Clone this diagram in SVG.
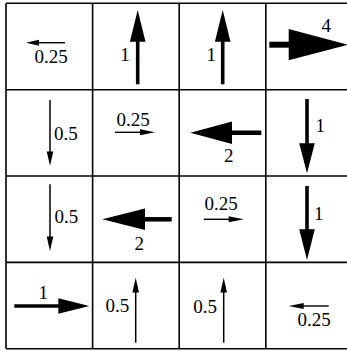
<svg xmlns="http://www.w3.org/2000/svg" width="347" height="352" viewBox="0 0 347 352">
<style>
.grid{stroke:#000;stroke-width:1.6;fill:none}
text{font-family:'Liberation Serif','Times New Roman',serif;font-size:19px;fill:#000}
.m{text-anchor:middle}
.s{stroke:#000;fill:none}
.h{fill:#000;stroke:none}
</style>
<rect width="347" height="352" fill="#fff"/>
<g id="grid" class="grid">
<path d="M6,3.3V348.7M92.6,3.3V348.7M179.2,3.3V348.7M265.8,3.3V348.7M352.4,3.3V348.7"/>
<path d="M6,3.3H352.4M6,89.7H352.4M6,176H352.4M6,262.4H352.4M6,348.7H352.4"/>
</g>
<g id="c00">
<line class="s" x1="65" y1="42.7" x2="36" y2="42.7" stroke-width="1.4"/>
<polygon class="h" points="26,42.7 39,39.7 39,45.7"/>
<text class="m" x="51" y="63">0.25</text>
</g>
<g id="c10">
<line class="s" x1="137.7" y1="84.3" x2="137.7" y2="38" stroke-width="3.6"/>
<polygon class="h" points="137.7,10 129.9,41.7 145.5,41.7"/>
<text class="m" x="125" y="61">1</text>
</g>
<g id="c20">
<line class="s" x1="222.7" y1="84.3" x2="222.7" y2="38" stroke-width="3.6"/>
<polygon class="h" points="222.7,10 214.9,41.7 230.5,41.7"/>
<text class="m" x="211.3" y="61">1</text>
</g>
<g id="c30">
<line class="s" x1="269.3" y1="44.7" x2="292" y2="44.7" stroke-width="6"/>
<polygon class="h" points="348,44.7 288.7,29 288.7,60.2"/>
<text class="m" x="326.3" y="31.7">4</text>
</g>
<g id="c01">
<line class="s" x1="50" y1="100" x2="50" y2="155" stroke-width="1.5"/>
<polygon class="h" points="50,165.7 46.7,151.5 53.3,151.5"/>
<text x="54" y="140">0.5</text>
</g>
<g id="c11">
<line class="s" x1="115" y1="132.3" x2="145" y2="132.3" stroke-width="1.4"/>
<polygon class="h" points="155,132.3 140,129.3 140,135.3"/>
<text class="m" x="133" y="126">0.25</text>
</g>
<g id="c21">
<line class="s" x1="261.3" y1="132.7" x2="228" y2="132.7" stroke-width="4.5"/>
<polygon class="h" points="190.3,132.7 232,121.5 232,143.9"/>
<text class="m" x="228.7" y="161.7">2</text>
</g>
<g id="c31">
<line class="s" x1="307" y1="99" x2="307" y2="147" stroke-width="3.6"/>
<polygon class="h" points="307,173.3 299.2,143.3 314.8,143.3"/>
<text class="m" x="320.3" y="132.3">1</text>
</g>
<g id="c02">
<line class="s" x1="50" y1="184.3" x2="50" y2="240" stroke-width="1.5"/>
<polygon class="h" points="50,251 46.7,236.5 53.3,236.5"/>
<text x="54.5" y="223.3">0.5</text>
</g>
<g id="c12">
<line class="s" x1="171.7" y1="219.3" x2="141" y2="219.3" stroke-width="4.5"/>
<polygon class="h" points="102.3,219.3 145,208.5 145,230.1"/>
<text class="m" x="139.3" y="250">2</text>
</g>
<g id="c22">
<line class="s" x1="203.7" y1="219.3" x2="233" y2="219.3" stroke-width="1.4"/>
<polygon class="h" points="243.7,219.3 228.7,216.3 228.7,222.3"/>
<text class="m" x="221.2" y="210.3">0.25</text>
</g>
<g id="c32">
<line class="s" x1="307" y1="186" x2="307" y2="233" stroke-width="3.6"/>
<polygon class="h" points="307,260 299.2,229.3 314.8,229.3"/>
<text class="m" x="318.7" y="220.3">1</text>
</g>
<g id="c03">
<line class="s" x1="14.3" y1="306" x2="62" y2="306" stroke-width="3.6"/>
<polygon class="h" points="89.3,306 58.3,298.2 58.3,313.8"/>
<text class="m" x="43.3" y="298.7">1</text>
</g>
<g id="c13">
<line class="s" x1="135.7" y1="342.7" x2="135.7" y2="288" stroke-width="1.5"/>
<polygon class="h" points="135.7,277.7 132.4,292.5 139,292.5"/>
<text x="105.5" y="312">0.5</text>
</g>
<g id="c23">
<line class="s" x1="223.7" y1="342.7" x2="223.7" y2="288" stroke-width="1.5"/>
<polygon class="h" points="223.7,277.7 220.4,292.5 227,292.5"/>
<text x="193.3" y="313.3">0.5</text>
</g>
<g id="c33">
<line class="s" x1="328.7" y1="306" x2="299" y2="306" stroke-width="1.4"/>
<polygon class="h" points="288.7,306 303.7,303 303.7,309"/>
<text class="m" x="314.2" y="326">0.25</text>
</g>
</svg>
